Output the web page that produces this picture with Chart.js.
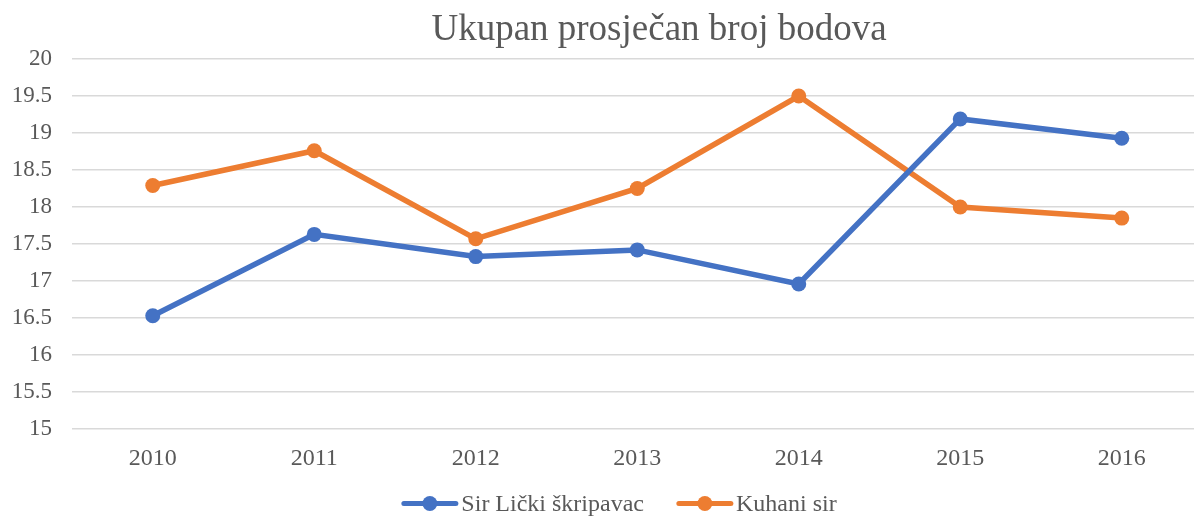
<!DOCTYPE html>
<html>
<head>
  <meta charset="utf-8">
  <title>Ukupan prosječan broj bodova</title>
  <script src="https://cdn.jsdelivr.net/npm/chart.js"></script>
  <style>
    html, body {
      margin: 0;
      padding: 0;
      background: #fff;
      overflow: hidden;
    }

    #wrap {
      position: relative;
      width: 1194px;
      height: 517px;
      overflow: hidden;
    }

    #chartBox {
      position: absolute;
      left: 0;
      top: 0;
      width: 1210px;
      height: 517px;
    }

    #title {
      position: absolute;
      left: 659px;
      top: 9px;
      transform: translateX(-50%);
      font-family: "Liberation Serif", "Times New Roman", serif;
      font-size: 37px;
      line-height: 37px;
      color: #595959;
      white-space: nowrap;
    }

    #legend {
      position: absolute;
      left: 619px;
      top: 489px;
      transform: translateX(-50%);
      display: flex;
      align-items: center;
      font-family: "Liberation Serif", "Times New Roman", serif;
      font-size: 24px;
      line-height: 28px;
      color: #595959;
      white-space: nowrap;
    }

    .item {
      display: flex;
      align-items: center;
      margin: 0 16px;
    }

    .sym {
      position: relative;
      width: 57px;
      height: 15px;
      margin-right: 3px;
    }

    .sym .ln {
      position: absolute;
      left: 0;
      right: 0;
      top: 5px;
      height: 5px;
      border-radius: 3px;
    }

    .sym .dot {
      position: absolute;
      left: 21px;
      top: 0;
      width: 15px;
      height: 15px;
      border-radius: 50%;
    }
  </style>
</head>
<body>
  <div id="wrap">
    <div id="chartBox">
      <canvas id="lineChart" width="1210" height="517"></canvas>
    </div>
    <div id="title">Ukupan prosječan broj bodova</div>
    <div id="legend"></div>
  </div>

  <script>
    const years = ["2010", "2011", "2012", "2013", "2014", "2015", "2016"];
    const likaValues = [16.53, 17.63, 17.33, 17.42, 16.96, 19.19, 18.93];
    const kuhaniValues = [18.29, 18.76, 17.57, 18.25, 19.50, 18.00, 17.85];
    const seriesNames = ["Sir Lički škripavac", "Kuhani sir"];
    const seriesColors = ["#4472C4", "#ED7D31"];

    const textColor = "#595959";
    Chart.defaults.font.family = "Liberation Serif";
    Chart.defaults.color = textColor;

    function makeDataset(label, data, color) {
      return {
        label: label,
        data: data,
        borderColor: color,
        backgroundColor: color,
        borderWidth: 5.5,
        pointRadius: 7.5,
        pointHoverRadius: 7.5,
        pointBorderWidth: 0,
        tension: 0,
      };
    }

    const ctx = document.getElementById("lineChart").getContext("2d");
    const chart = new Chart(ctx, {
      type: "line",
      data: {
        labels: years,
        datasets: [
          makeDataset(seriesNames[0], likaValues, seriesColors[0]),
          makeDataset(seriesNames[1], kuhaniValues, seriesColors[1]),
        ],
      },
      options: {
        responsive: false,
        animation: false,
        layout: {
          padding: { top: 59, right: 2, left: 0, bottom: 0 },
        },
        plugins: {
          legend: { display: false },
          title: { display: false },
          tooltip: { enabled: false },
        },
        scales: {
          x: {
            offset: true,
            grid: { display: false, drawTicks: false },
            border: { display: false },
            ticks: {
              color: textColor,
              font: { family: "Liberation Serif", size: 24 },
              padding: 15,
              maxRotation: 0,
            },
            afterFit: scale => { scale.height = 88; },
          },
          y: {
            min: 15,
            max: 20,
            grid: { color: "#d9d9d9", lineWidth: 1.5, drawTicks: false },
            border: { display: false },
            ticks: {
              stepSize: 0.5,
              color: textColor,
              font: { family: "Liberation Serif", size: 23 },
              padding: 20,
              callback: value => String(value),
            },
            afterFit: scale => { scale.width = 72; },
          },
        },
      },
    });

    // HTML legend: line with a dot in the middle, like the original
    const legend = document.getElementById("legend");
    chart.data.datasets.forEach(ds => {
      const item = document.createElement("div");
      item.className = "item";
      item.innerHTML = `
        <span class="sym">
          <span class="ln" style="background:${ds.borderColor}"></span>
          <span class="dot" style="background:${ds.borderColor}"></span>
        </span>
        <span>${ds.label}</span>
      `;
      legend.appendChild(item);
    });
  </script>
</body>
</html>
